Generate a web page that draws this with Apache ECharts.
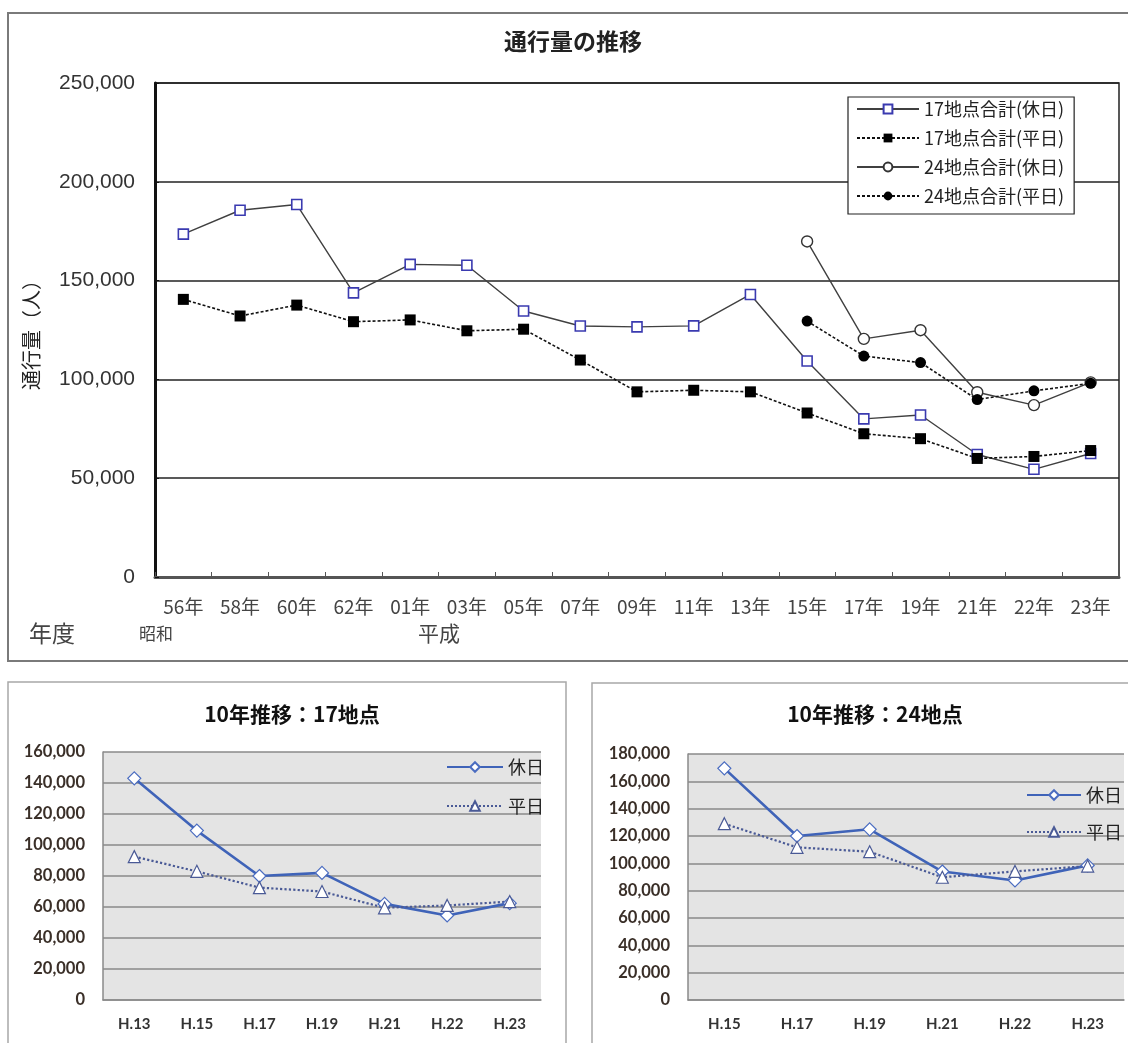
<!DOCTYPE html>
<html>
<head>
<meta charset="utf-8">
<script src="https://cdn.jsdelivr.net/npm/echarts@6/dist/echarts.min.js"></script>
<style>
html,body{margin:0;padding:0;background:#fff;}
#chart{width:1128px;height:1043px;}
</style>
</head>
<body>
<div id="chart"></div>
<script>
// ---- Data ----
const topCategories = ['56年','58年','60年','62年','01年','03年','05年','07年','09年','11年','13年','15年','17年','19年','21年','22年','23年'];
const total17Holiday = [173500, 185600, 188500, 143800, 158200, 157800, 134600, 127000, 126600, 127100, 143000, 109300, 80000, 82000, 62000, 54500, 62500];
const total17Weekday = [140500, 132100, 137600, 129200, 130100, 124600, 125400, 109800, 93700, 94500, 93700, 83000, 72500, 70000, 60000, 61000, 64000];
const total24Holiday = [null, null, null, null, null, null, null, null, null, null, null, 169800, 120500, 124900, 93500, 87000, 98500];
const total24Weekday = [null, null, null, null, null, null, null, null, null, null, null, 129500, 111800, 108500, 89800, 94200, 98000];
const topSeriesNames = ['17地点合計(休日)', '17地点合計(平日)', '24地点合計(休日)', '24地点合計(平日)'];

const years17 = ['H.13','H.15','H.17','H.19','H.21','H.22','H.23'];
const holiday17 = [143000, 109300, 80000, 82000, 62000, 54500, 62500];
const weekday17 = [92500, 83000, 72500, 70000, 59500, 61000, 63500];

const years24 = ['H.15','H.17','H.19','H.21','H.22','H.23'];
const holiday24 = [169500, 120000, 124900, 94000, 87500, 98500];
const weekday24 = [129000, 111700, 108500, 89800, 94100, 98000];

const smallSeriesNames = ['休日', '平日'];

// ---- Chart ----
const fmt = v => Number(v).toLocaleString('en-US');
const JP = '"Noto Sans CJK JP", "Noto Sans", sans-serif';
const chart = echarts.init(document.getElementById('chart'), null, {renderer: 'canvas'});

const smallX = (idx, data) => ({
  type: 'category', gridIndex: idx, data: data, boundaryGap: true,
  axisLine: {show: true, lineStyle: {color: '#8a8a8a', width: 1.5}},
  axisTick: {show: false},
  axisLabel: {margin: 17, fontSize: 15, fontWeight: 'bold', color: '#333', fontFamily: 'Lato, "Noto Sans", sans-serif'}
});
const smallY = (idx, max) => ({
  type: 'value', gridIndex: idx, min: 0, max: max, interval: 20000,
  axisLine: {show: true, lineStyle: {color: '#8a8a8a', width: 1.5}},
  axisTick: {show: false},
  splitLine: {show: true, lineStyle: {color: '#8a8a8a', width: 1.5}},
  axisLabel: {margin: 18, fontSize: 16.5, fontWeight: 'bold', color: '#3a2f28', fontFamily: 'Lato, "Noto Sans", sans-serif', formatter: fmt}
});
const holidayStyle = (xi, data) => ({
  name: '休日', type: 'line', xAxisIndex: xi, yAxisIndex: xi, data: data,
  symbol: 'diamond', symbolSize: 13, showAllSymbol: true,
  itemStyle: {color: '#ffffff', borderColor: '#4a6cc0', borderWidth: 1.2},
  lineStyle: {color: '#3f63b8', width: 2.6}
});
const weekdayStyle = (xi, data) => ({
  name: '平日', type: 'line', xAxisIndex: xi, yAxisIndex: xi, data: data,
  symbol: 'triangle', symbolSize: 12, showAllSymbol: true,
  itemStyle: {color: '#ffffff', borderColor: '#4a5a96', borderWidth: 1.2},
  lineStyle: {color: '#4a5a96', width: 2.2, type: 'dotted'}
});

const option = {
  animation: false,
  backgroundColor: '#ffffff',
  title: [
    {text: '通行量の推移', left: 568, textAlign: 'center', top: 25,
     textStyle: {fontSize: 23, fontWeight: 'bold', color: '#222', fontFamily: JP}},
    {text: '10年推移：17地点', left: 287, textAlign: 'center', top: 699,
     textStyle: {fontSize: 21, fontWeight: 'bold', color: '#111', fontFamily: JP}},
    {text: '10年推移：24地点', left: 870, textAlign: 'center', top: 699,
     textStyle: {fontSize: 21, fontWeight: 'bold', color: '#111', fontFamily: JP}}
  ],
  legend: [
    {data: topSeriesNames, orient: 'vertical', left: 848, top: 97,
     backgroundColor: '#fff', borderColor: '#222', borderWidth: 1.2,
     padding: [2, 10, 8, 8], itemGap: 9, itemWidth: 62, itemHeight: 11,
     textStyle: {fontSize: 18, color: '#222', fontFamily: JP, lineHeight: 20}},
    {data: smallSeriesNames, orient: 'vertical', left: 441, top: 752,
     itemGap: 19, itemWidth: 56, itemHeight: 12,
     textStyle: {fontSize: 18, color: '#222', fontFamily: JP, lineHeight: 20}},
    {data: smallSeriesNames, orient: 'vertical', left: 1021, top: 780,
     itemGap: 17, itemWidth: 54, itemHeight: 12,
     textStyle: {fontSize: 18, color: '#222', fontFamily: JP, lineHeight: 20}}
  ],
  grid: [
    {left: 155, top: 83, width: 964, height: 494, show: true, backgroundColor: '#fff', borderColor: '#222', borderWidth: 1.5},
    {left: 103, top: 752, width: 438, height: 248, show: true, backgroundColor: '#e4e4e4', borderWidth: 0},
    {left: 688, top: 754, width: 436, height: 246, show: true, backgroundColor: '#e4e4e4', borderWidth: 0}
  ],
  xAxis: [
    {type: 'category', gridIndex: 0, data: topCategories, boundaryGap: true,
     axisLine: {show: true, lineStyle: {color: '#555', width: 3}},
     axisTick: {show: true, inside: true, length: 5, lineStyle: {color: '#555'}},
     axisLabel: {margin: 20, fontSize: 19, color: '#444', fontFamily: JP}},
    smallX(1, years17),
    smallX(2, years24)
  ],
  yAxis: [
    {type: 'value', gridIndex: 0, min: 0, max: 250000, interval: 50000,
     axisLine: {show: true, lineStyle: {color: '#111', width: 3}},
     axisTick: {show: true, inside: true, length: 4, lineStyle: {color: '#111'}},
     splitLine: {show: true, lineStyle: {color: '#222', width: 1.5}},
     axisLabel: {margin: 20, fontSize: 21, color: '#333', fontFamily: '"Liberation Sans", Arial, sans-serif', formatter: fmt},
     name: '通行量（人）', nameLocation: 'middle', nameGap: 114, nameRotate: 90,
     nameTextStyle: {fontSize: 20, color: '#222', fontFamily: JP}},
    smallY(1, 160000),
    smallY(2, 180000)
  ],
  graphic: [
    {type: 'rect', shape: {x: 8, y: 13, width: 1130, height: 648}, style: {fill: 'none', stroke: '#7a7a7a', lineWidth: 2}, z: -1},
    {type: 'rect', shape: {x: 8, y: 682, width: 558, height: 400}, style: {fill: 'none', stroke: '#a8a8a8', lineWidth: 1.5}, z: -1},
    {type: 'rect', shape: {x: 592, y: 683, width: 560, height: 400}, style: {fill: 'none', stroke: '#a8a8a8', lineWidth: 1.5}, z: -1},
    {type: 'text', left: 29, top: 622, style: {text: '年度', fontSize: 23, fill: '#444', fontFamily: JP}},
    {type: 'text', left: 139, top: 625, style: {text: '昭和', fontSize: 17, fill: '#444', fontFamily: JP}},
    {type: 'text', left: 418, top: 623, style: {text: '平成', fontSize: 21, fill: '#444', fontFamily: JP}}
  ],
  series: [
    {name: topSeriesNames[0], type: 'line', xAxisIndex: 0, yAxisIndex: 0, data: total17Holiday,
     symbol: 'rect', symbolSize: 10, showAllSymbol: true,
     itemStyle: {color: '#fff', borderColor: '#3a3ab0', borderWidth: 1.6},
     lineStyle: {color: '#404040', width: 1.4}},
    {name: topSeriesNames[1], type: 'line', xAxisIndex: 0, yAxisIndex: 0, data: total17Weekday,
     symbol: 'rect', symbolSize: 11, showAllSymbol: true,
     itemStyle: {color: '#000', borderColor: '#000', borderWidth: 0},
     lineStyle: {color: '#111', width: 1.6, type: [3, 2]}},
    {name: topSeriesNames[2], type: 'line', xAxisIndex: 0, yAxisIndex: 0, data: total24Holiday,
     symbol: 'circle', symbolSize: 11, showAllSymbol: true,
     itemStyle: {color: '#fff', borderColor: '#333', borderWidth: 1.4},
     lineStyle: {color: '#404040', width: 1.4}},
    {name: topSeriesNames[3], type: 'line', xAxisIndex: 0, yAxisIndex: 0, data: total24Weekday,
     symbol: 'circle', symbolSize: 11, showAllSymbol: true,
     itemStyle: {color: '#000', borderColor: '#000', borderWidth: 0},
     lineStyle: {color: '#111', width: 1.6, type: [3, 2]}},
    holidayStyle(1, holiday17),
    weekdayStyle(1, weekday17),
    holidayStyle(2, holiday24),
    weekdayStyle(2, weekday24)
  ]
};
chart.setOption(option);
</script>
</body>
</html>
